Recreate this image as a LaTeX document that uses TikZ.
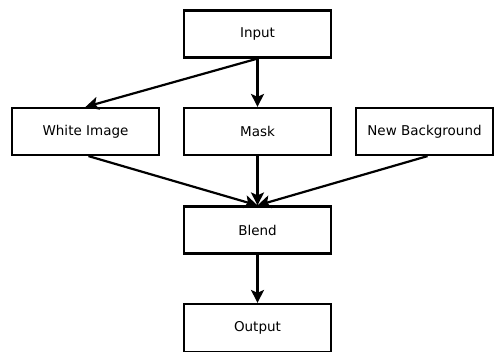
\documentclass[tikz,border=0pt]{standalone}
\usepackage{fontspec}
\setmainfont{DejaVu Sans}
\usetikzlibrary{arrows.meta}
\begin{document}
\begin{tikzpicture}[x=1pt,y=-1pt,
  box/.style={draw,line width=2.2pt,minimum width=147pt,minimum height=47pt,inner sep=0pt,font=\fontsize{13.5}{15}\selectfont},
  conn/.style={line width=2.2pt,-{Stealth[length=13pt,width=13pt,inset=3pt]}}]
\useasboundingbox[fill=white] (0,0) rectangle (494,351);
\node[box] (input) at (257.5,34) {Input};
\node[box] (white) at (85.5,131.5) {White Image};
\node[box] (mask) at (257.5,131.5) {Mask};
\node[box,minimum width=137pt] (bg) at (424.5,131.5) {New Background};
\node[box] (blend) at (257.5,230) {Blend};
\node[box,minimum height=48pt] (output) at (257.5,328) {Output};
\draw[conn] (input.south) -- (white.north);
\draw[conn] (input.south) -- (mask.north);
\draw[conn] ([xshift=3pt]white.south) -- (blend.north);
\draw[conn] (mask.south) -- (blend.north);
\draw[conn] ([xshift=3pt]bg.south) -- (blend.north);
\draw[conn] (blend.south) -- (output.north);
\end{tikzpicture}
\end{document}
